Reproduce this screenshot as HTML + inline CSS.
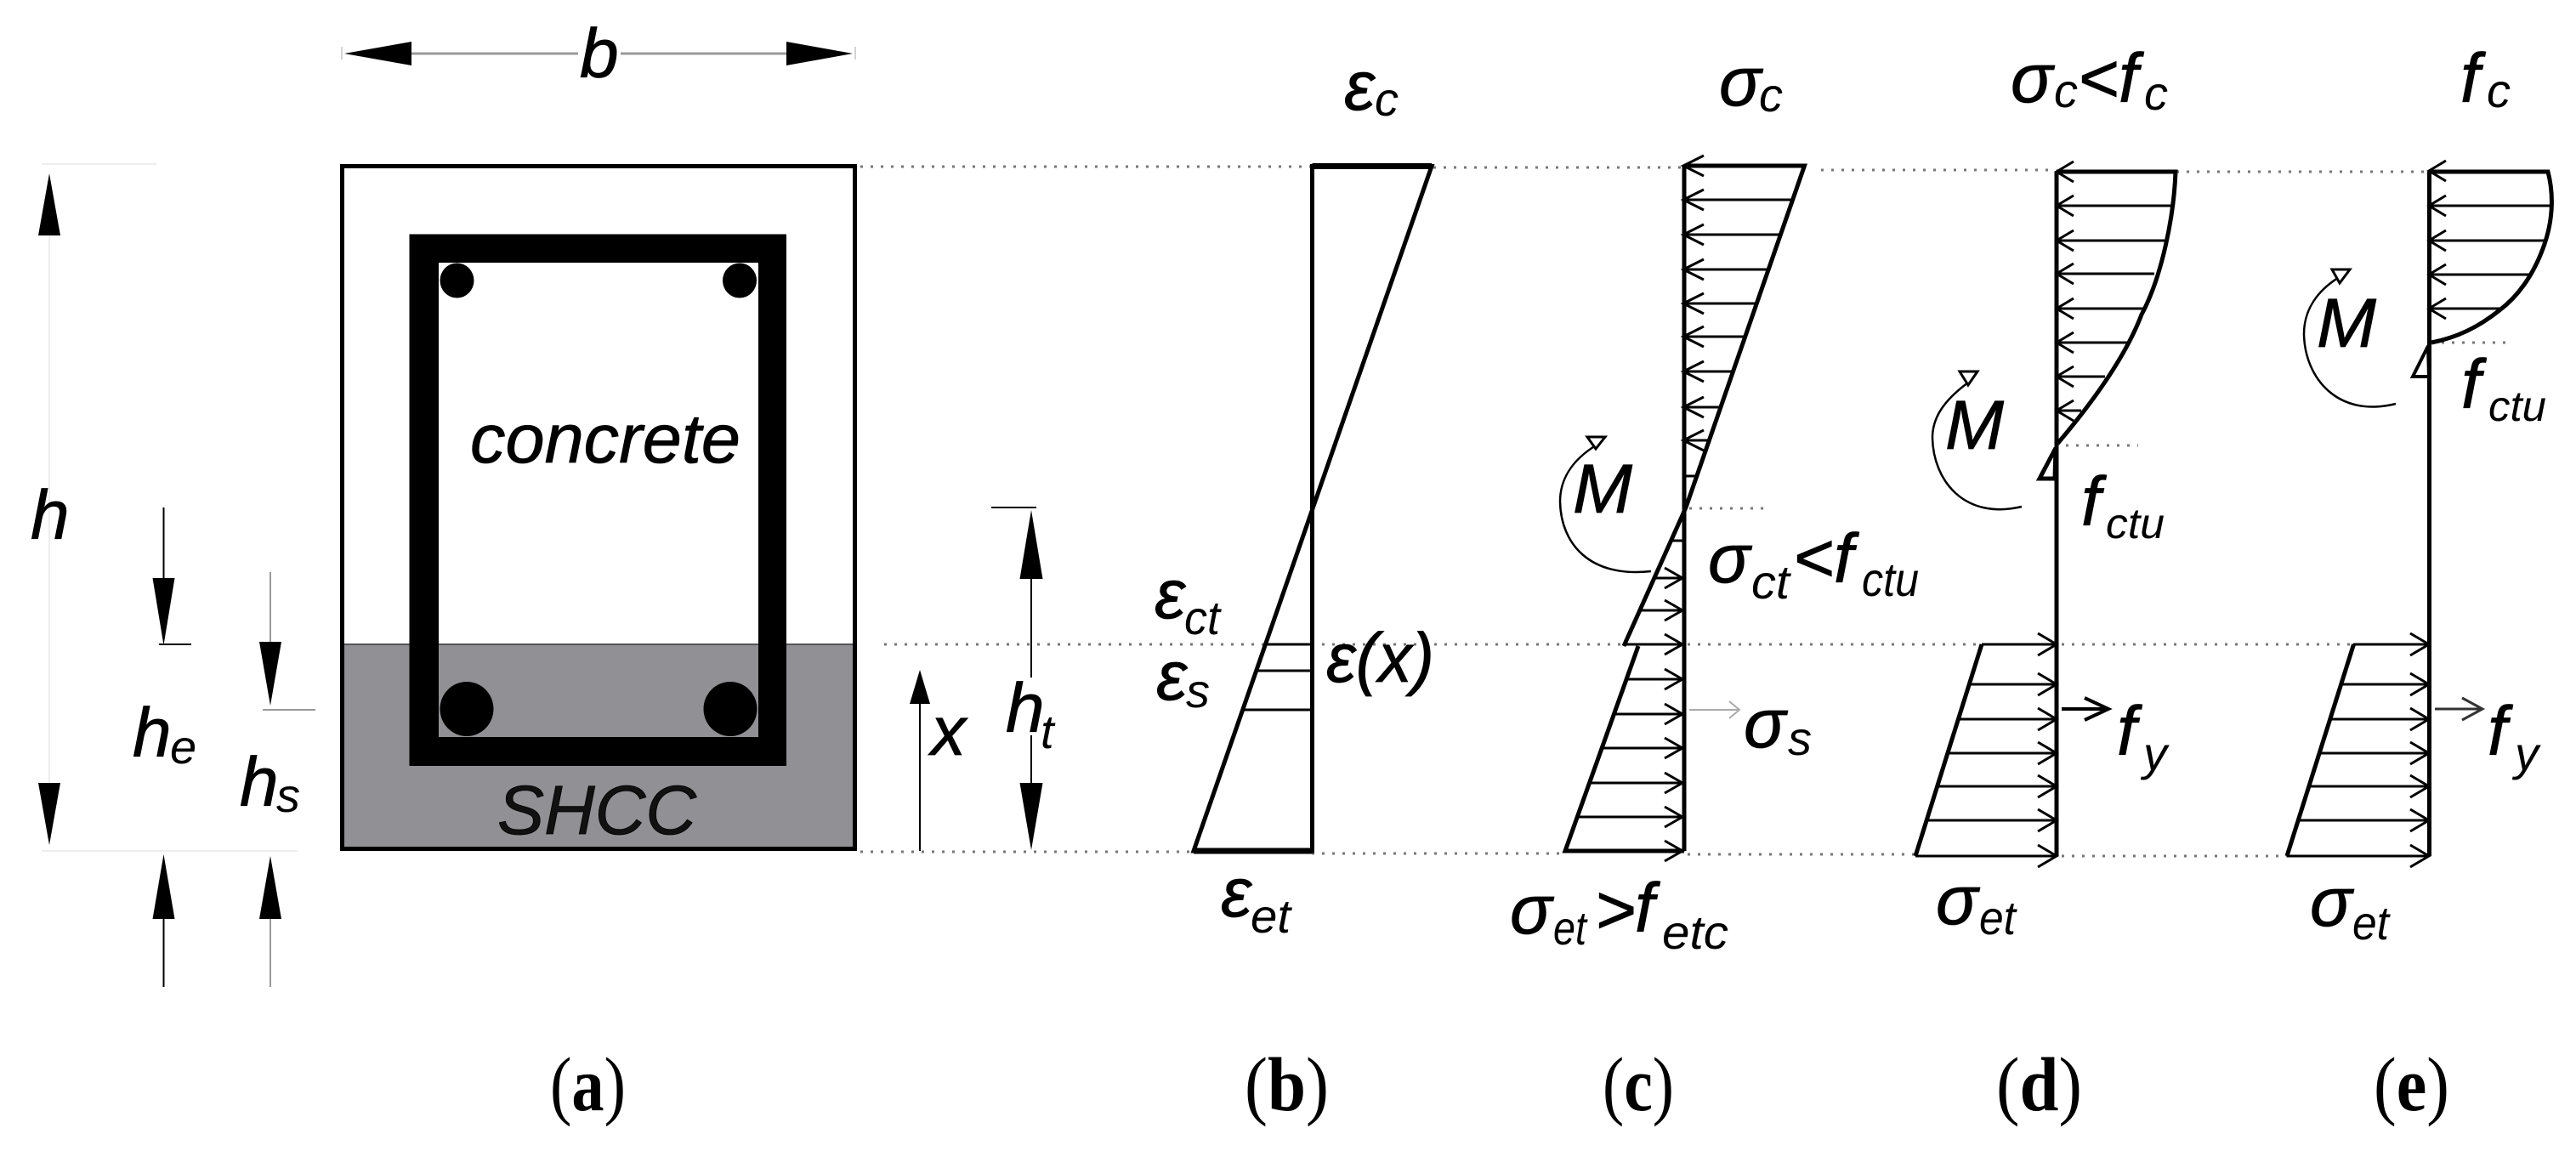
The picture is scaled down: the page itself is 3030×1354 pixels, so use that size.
<!DOCTYPE html>
<html><head><meta charset="utf-8"><title>Section diagram</title>
<style>
html,body{margin:0;padding:0;background:#fff;width:3030px;height:1354px;overflow:hidden}
svg{display:block}
text{font-family:"Liberation Sans",sans-serif;font-style:italic;fill:#000}
.m{font-size:82px;stroke:#000;stroke-width:.8}
.s{font-size:56px}
.u{font-size:50px}
.l{font-family:"Liberation Serif",serif;font-style:normal;font-size:90px}
.l tspan{font-weight:bold}
.d{stroke:#777;stroke-width:3;stroke-dasharray:3 9;fill:none}
.t{stroke:#000;stroke-width:5;fill:none;stroke-linejoin:miter}
.h{stroke:#000;stroke-width:3;fill:none}
</style></head><body>
<svg width="3030" height="1354" viewBox="0 0 3030 1354" xmlns="http://www.w3.org/2000/svg">
<rect width="3030" height="1354" fill="#fff"/>

<!-- dotted guides -->
<path class="d" d="M1012,196H1543M1686,197H1980M2142,200H2410M2560,202H2855M1040,758H1488M1543,758H1910M1985,758H2331M2425,758H2768M1012,1002H1404M1543,1004H1841M1985,1005H2253M2425,1007H2690M1987,598H2076M2430,524H2515M2860,403H2951"/>
<path d="M49,193H184M49,1001H350" stroke="#eee" stroke-width="2" fill="none"/>

<!-- section (a) -->
<rect x="402.500" y="195.500" width="603" height="803" fill="#fff" stroke="#000" stroke-width="5"/>
<rect x="405" y="758" width="598" height="238" fill="#909095"/>
<path d="M405,758H1003" stroke="#555" stroke-width="2"/>
<path d="M481.500,275.500H925V901H481.500ZM516,309V867H892V309Z" fill="#000" fill-rule="evenodd"/>
<ellipse cx="537.500" cy="330" rx="20" ry="20.500"/><ellipse cx="870" cy="330" rx="20" ry="20.500"/>
<ellipse cx="549" cy="834" rx="31.500" ry="32"/><ellipse cx="859" cy="834" rx="31.500" ry="32"/>
<text class="m" x="553" y="544" textLength="318" lengthAdjust="spacingAndGlyphs">concrete</text>
<text class="m" x="585" y="981" textLength="234" lengthAdjust="spacingAndGlyphs" style="fill:#111">SHCC</text>

<!-- b dimension -->
<path d="M484,63H680M730,63H925" stroke="#999" stroke-width="3"/>
<path d="M405,63L484,49V77ZM1003,63L925,49V77Z"/>
<path d="M402,55V70M1006,55V70" stroke="#aaa" stroke-width="1"/>
<text class="m" x="682" y="91">b</text>

<!-- h dimension -->
<path d="M58,277V921" stroke="#eee" stroke-width="2"/>
<path d="M58,204L45,277H71ZM58,994L45,921H71Z"/>
<text class="m" x="36" y="634">h</text>

<!-- he dimension -->
<path d="M192.500,597V680M187,758H225M192.500,1081V1161" stroke="#000" stroke-width="2" fill="none"/>
<path d="M192.500,759L179.500,680H205.500ZM192.500,1005L179.500,1081H205.500Z"/>
<text class="m" x="156" y="890">h</text><text class="s" x="200" y="898">e</text>

<!-- hs dimension -->
<path d="M318,673V755M309,835H371M318,1081V1161" stroke="#999" stroke-width="2" fill="none"/>
<path d="M318,830L305,755H331ZM318,1007L305,1081H331Z"/>
<text class="m" x="282" y="948">h</text><text class="s" x="325" y="955">s</text>

<!-- x dimension -->
<path d="M1082,828V1001" stroke="#000" stroke-width="2"/>
<path d="M1082,788L1070,828H1094Z"/>
<text class="m" x="1095" y="888">x</text>

<!-- ht dimension -->
<path d="M1166,597H1219M1213,681V797M1213,865V921" stroke="#000" stroke-width="2" fill="none"/>
<path d="M1213,600L1199.500,681H1226.500ZM1213,1000L1199.500,921H1226.500Z"/>
<text class="m" x="1183" y="861">h</text><text class="s" x="1224" y="880">t</text>

<!-- strain diagram (b) -->
<path class="t" d="M1543.500,195.500H1684L1404,1001H1543.500Z"/>
<path d="M1543.500,195.500H1684M1404,1001H1543.500" stroke="#000" stroke-width="7" fill="none"/>
<path class="h" d="M1488,758H1543M1477,789H1543M1461,835H1543"/>
<text class="m" x="1581" y="129">ε</text><text class="s" x="1617" y="136">c</text>
<text class="m" x="1358" y="727">ε</text><text class="s" x="1393" y="746" textLength="42" lengthAdjust="spacingAndGlyphs">ct</text>
<text class="m" x="1360" y="823">ε</text><text class="s" x="1395" y="832">s</text>
<text class="m" x="1560" y="802" textLength="127" lengthAdjust="spacingAndGlyphs">ε(x)</text>
<text class="m" x="1436" y="1078">ε</text><text class="s" x="1471" y="1097" textLength="47" lengthAdjust="spacingAndGlyphs">et</text>

<!-- stress diagram (c) -->
<path class="t" d="M1981,195V1001"/>
<path class="t" d="M1981,195H2122.500L1983,597L1910,760M1927,760L1841,1001H1981"/>
<path class="h" d="M1980,235H2108M1980,276H2094M1980,317H2080M1980,357H2066M1980,396H2052M1980,437H2038M1980,479H2023M1980,518H2010M1980,560H1996
M1967,636H1980M1948,680H1980M1930,718H1980M1910,758H1980M1912,799H1980M1898,840H1980M1884,880H1980M1870,921H1980M1856,961H1980"/>
<path class="h" d="M2004,183L1980,195L2004,207M2004,223L1980,235L2004,247M2004,264L1980,276L2004,288M2004,305L1980,317L2004,329M2004,345L1980,357L2004,369M2004,384L1980,396L2004,408M2004,425L1980,437L2004,449M2004,467L1980,479L2004,491M2004,506L1980,518L2004,530
M1958,668L1979,680L1958,692M1958,706L1979,718L1958,730M1958,746L1979,758L1958,770M1958,787L1979,799L1958,811M1958,828L1979,840L1958,852M1958,868L1979,880L1958,892M1958,909L1979,921L1958,933M1958,949L1979,961L1958,973M1958,989L1979,1001L1958,1013"/>
<path d="M1987,835H2046M2034,825L2046,835L2034,845" stroke="#aaa" stroke-width="2" fill="none"/>
<text class="m" x="2022" y="124">σ</text><text class="s" x="2069" y="131">c</text>
<text class="m" x="2009" y="685">σ</text><text class="s" x="2060" y="704" textLength="45" lengthAdjust="spacingAndGlyphs">ct</text>
<text class="m" x="2109" y="684" textLength="48" lengthAdjust="spacingAndGlyphs">&lt;</text><text class="m" x="2157" y="685">f</text><text class="s" x="2190" y="701" textLength="67" lengthAdjust="spacingAndGlyphs">ctu</text>
<text class="m" x="2051" y="879">σ</text><text class="s" x="2103" y="888">s</text>
<text class="m" x="1776" y="1098">σ</text><text class="s" x="1827" y="1111" textLength="39" lengthAdjust="spacingAndGlyphs">et</text>
<text class="m" x="1876" y="1098">&gt;</text><text class="m" x="1923" y="1096">f</text><text class="s" x="1955" y="1116" textLength="78" lengthAdjust="spacingAndGlyphs">etc</text>
<path d="M1877,524C1848,542 1835,565 1835,590C1836,640 1870,680 1942,672" stroke="#000" stroke-width="2.500" fill="none"/>
<path d="M1867,514H1888L1877,528Z" fill="#fff" stroke="#000" stroke-width="3"/>
<text class="m" x="1850" y="603" textLength="70" lengthAdjust="spacingAndGlyphs">M</text>

<!-- stress diagram (d) -->
<path class="t" d="M2419,202V1007"/>
<path class="t" d="M2419,202H2559C2557,255 2543,325 2519,370C2500,420 2460,475 2420,522"/>
<path class="t" d="M2331,758L2253,1007"/>
<path class="h" d="M2419,242H2554M2419,283H2546M2419,322H2534M2419,363H2521M2419,403H2502M2419,443H2476M2419,483H2448
M2331,758H2419M2316,805H2419M2303,846H2419M2291,886H2419M2279,925H2419M2266,965H2419M2253,1007H2419"/>
<path class="h" d="M2439,190L2419,202L2439,214M2439,230L2419,242L2439,254M2439,271L2419,283L2439,295M2439,310L2419,322L2439,334M2439,351L2419,363L2439,375M2439,391L2419,403L2439,415M2439,431L2419,443L2439,455M2439,471L2419,483L2439,495
M2397,745L2419,758L2397,771M2397,792L2419,805L2397,818M2397,833L2419,846L2397,859M2397,873L2419,886L2397,899M2397,912L2419,925L2397,938M2397,952L2419,965L2397,978M2397,994L2419,1007L2397,1020"/>
<path d="M2418,527L2399,563H2417Z" stroke="#000" stroke-width="5" fill="#fff"/>
<path d="M2425,834H2478M2452,821L2480,834L2452,847" stroke="#000" stroke-width="4" fill="none"/>
<text class="m" x="2365" y="120">σ</text><text class="s" x="2416" y="126">c</text><text class="m" x="2444" y="120">&lt;</text><text class="m" x="2492" y="120">f</text><text class="s" x="2522" y="129">c</text>
<text class="m" x="2448" y="618">f</text><text class="u" x="2477" y="633" textLength="69" lengthAdjust="spacingAndGlyphs">ctu</text>
<text class="m" x="2490" y="888">f</text><text class="s" x="2521" y="906">y</text>
<text class="m" x="2277" y="1087">σ</text><text class="s" x="2328" y="1099" textLength="43" lengthAdjust="spacingAndGlyphs">et</text>
<path d="M2315,450C2288,470 2273,490 2273,515C2274,565 2310,612 2378,596" stroke="#000" stroke-width="2.500" fill="none"/>
<path d="M2305,437H2326L2315,453Z" fill="#fff" stroke="#000" stroke-width="3"/>
<text class="m" x="2288" y="528" textLength="69" lengthAdjust="spacingAndGlyphs">M</text>

<!-- stress diagram (e) -->
<path class="t" d="M2857.500,202V1007"/>
<path class="t" d="M2857.500,202H2997C3003,225 3004,255 2993,287C2980,325 2960,350 2940,365C2915,385 2890,397 2860,403"/>
<path class="t" d="M2768.500,758L2690,1007"/>
<path class="h" d="M2857,242H2999M2857,283H2992M2857,323H2975M2857,363H2942
M2768,758H2857M2754,805H2857M2741,846H2857M2728,886H2857M2716,925H2857M2703,965H2857M2690,1007H2857"/>
<path class="h" d="M2877,189L2857,201L2877,213M2877,230L2857,242L2877,254M2877,271L2857,283L2877,295M2877,311L2857,323L2877,335M2877,351L2857,363L2877,375
M2835,745L2857,758L2835,771M2835,792L2857,805L2835,818M2835,833L2857,846L2835,859M2835,873L2857,886L2835,899M2835,912L2857,925L2835,938M2835,952L2857,965L2835,978M2835,994L2857,1007L2835,1020"/>
<path d="M2856,407L2838,443H2857Z" stroke="#000" stroke-width="4" fill="#fff"/>
<path d="M2864,834H2918M2896,821L2920,834L2896,847" stroke="#333" stroke-width="3" fill="none"/>
<text class="m" x="2894" y="120">f</text><text class="s" x="2925" y="126">c</text>
<text class="m" x="2895" y="480">f</text><text class="u" x="2927" y="495" textLength="68" lengthAdjust="spacingAndGlyphs">ctu</text>
<text class="m" x="2926" y="888">f</text><text class="s" x="2958" y="906">y</text>
<text class="m" x="2717" y="1089">σ</text><text class="s" x="2767" y="1105" textLength="43" lengthAdjust="spacingAndGlyphs">et</text>
<path d="M2753,325C2725,342 2710,365 2710,393C2711,445 2750,492 2818,475" stroke="#000" stroke-width="2.500" fill="none"/>
<path d="M2743,317H2764L2752,333Z" fill="#fff" stroke="#000" stroke-width="3"/>
<text class="m" x="2725" y="408" textLength="70" lengthAdjust="spacingAndGlyphs">M</text>

<!-- captions -->
<text class="l" x="647" y="1306" textLength="89" lengthAdjust="spacingAndGlyphs">(<tspan>a</tspan>)</text>
<text class="l" x="1464" y="1306" textLength="99" lengthAdjust="spacingAndGlyphs">(<tspan>b</tspan>)</text>
<text class="l" x="1885" y="1306" textLength="84" lengthAdjust="spacingAndGlyphs">(<tspan>c</tspan>)</text>
<text class="l" x="2348" y="1306" textLength="101" lengthAdjust="spacingAndGlyphs">(<tspan>d</tspan>)</text>
<text class="l" x="2792" y="1306" textLength="89" lengthAdjust="spacingAndGlyphs">(<tspan>e</tspan>)</text>
</svg>
</body></html>
